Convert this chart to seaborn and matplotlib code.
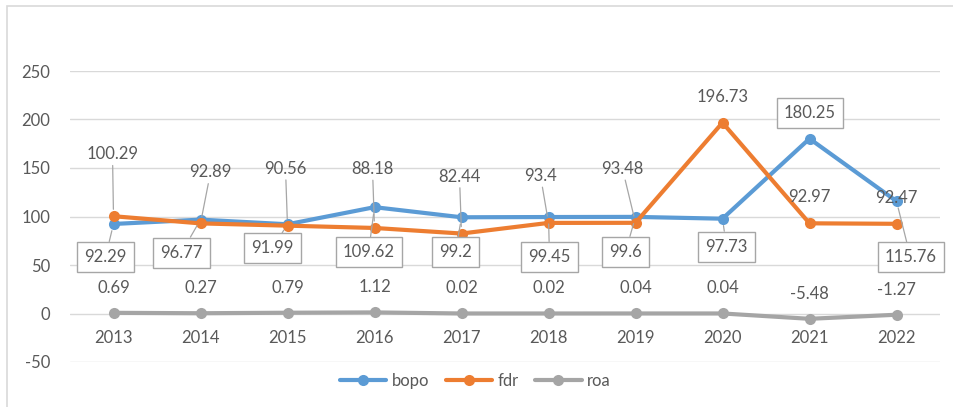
import matplotlib
matplotlib.use('Agg')
import numpy as np
import pandas as pd
import seaborn as sns
from matplotlib import pyplot as plt
from matplotlib.lines import Line2D
from matplotlib.patches import Rectangle

years = [2013, 2014, 2015, 2016, 2017, 2018, 2019, 2020, 2021, 2022]
bopo = [92.29, 96.77, 91.99, 109.62, 99.2, 99.45, 99.6, 97.73, 180.25, 115.76]
fdr = [100.29, 92.89, 90.56, 88.18, 82.44, 93.4, 93.48, 196.73, 92.97, 92.47]
roa = [0.69, 0.27, 0.79, 1.12, 0.02, 0.02, 0.04, 0.04, -5.48, -1.27]
series_names = ['bopo', 'fdr', 'roa']

colors = {'bopo': '#5B9BD5', 'fdr': '#ED7D31', 'roa': '#A5A5A5'}
text_color = '#595959'

# label offsets in pixels (dx, dy up), and whether a leader line is drawn
bopo_off = [(-8, -33), (-19, -33), (-15, -24), (-6, -45), (-6, -35),
            (1, -40), (-10, -35), (4, -28), (0, 26), (14, -56)]
bopo_lead = [True, True, True, True, True, True, True, True, False, True]
fdr_off = [(-1, 62), (10, 51), (-2, 57), (-2, 59), (-2, 57),
           (-8, 47), (-13, 54), (0, 26), (0, 26), (0, 26)]
fdr_lead = [True, True, True, True, True, True, True, False, False, False]
roa_off = [(0, 25)] * 10

df = pd.DataFrame({
    'year': years * 3,
    'value': bopo + fdr + roa,
    'series': ['bopo'] * 10 + ['fdr'] * 10 + ['roa'] * 10,
})

sns.set_theme(style='white')
plt.rcParams['font.family'] = ['Lato', 'DejaVu Sans']
plt.rcParams['axes.unicode_minus'] = False

fig = plt.figure(figsize=(9.54, 4.07), dpi=100)
ax = fig.add_axes([70 / 954, 1 - 362 / 407, 870 / 954, 291 / 407])

sns.lineplot(data=df, x='year', y='value', hue='series', hue_order=series_names,
             palette=colors, marker='o', markersize=8, markeredgewidth=0,
             linewidth=3, ax=ax, legend=False)

ax.set_xlim(2012.5, 2022.5)
ax.set_ylim(-50, 250)
ax.set_xticks(years)
ax.set_yticks(range(-50, 251, 50))
ax.grid(axis='y', color='#D9D9D9', lw=1)
ax.set_axisbelow(True)
for s in ax.spines.values():
    s.set_visible(False)
ax.spines['bottom'].set_position(('data', 0))
ax.tick_params(axis='both', length=0, labelsize=12, labelcolor=text_color)
ax.tick_params(axis='y', pad=14)
ax.tick_params(axis='x', pad=12)
ax.set_xlabel('')
ax.set_ylabel('')

px = 72 / 100
lead_props = dict(arrowstyle='-', color='#A6A6A6', lw=0.9, shrinkA=0, shrinkB=5)


def label(vals, offs, leads, boxed):
    for x, v, (dx, dy), lead in zip(years, vals, offs, leads):
        kw = {}
        if boxed:
            kw['bbox'] = dict(boxstyle='square,pad=0.42', fc='white', ec='#A6A6A6', lw=1)
        if lead:
            kw['arrowprops'] = lead_props
        ax.annotate(f'{v:g}', xy=(x, v), xytext=(dx * px, dy * px),
                    textcoords='offset points', ha='center', va='center',
                    fontsize=12, color=text_color, zorder=5, **kw)


label(bopo, bopo_off, bopo_lead, True)
label(fdr, fdr_off, fdr_lead, False)
label(roa, roa_off, [False] * 10, False)

handles = [Line2D([], [], color=colors[n], lw=3, marker='o', markersize=8,
                  markeredgewidth=0) for n in series_names]
fig.legend(handles, series_names, loc='center', bbox_to_anchor=(0.498, 0.064),
           ncol=3, frameon=False, handlelength=2.8, columnspacing=1.0,
           handletextpad=0.3, fontsize=12, labelcolor=text_color)

fig.patches.append(Rectangle((7.5 / 954, -0.05), 1.0, 1 - 6 / 407 + 0.05,
                             transform=fig.transFigure, fill=False,
                             ec='#D9D9D9', lw=1.2))

fig.savefig('out.png', dpi=100)
